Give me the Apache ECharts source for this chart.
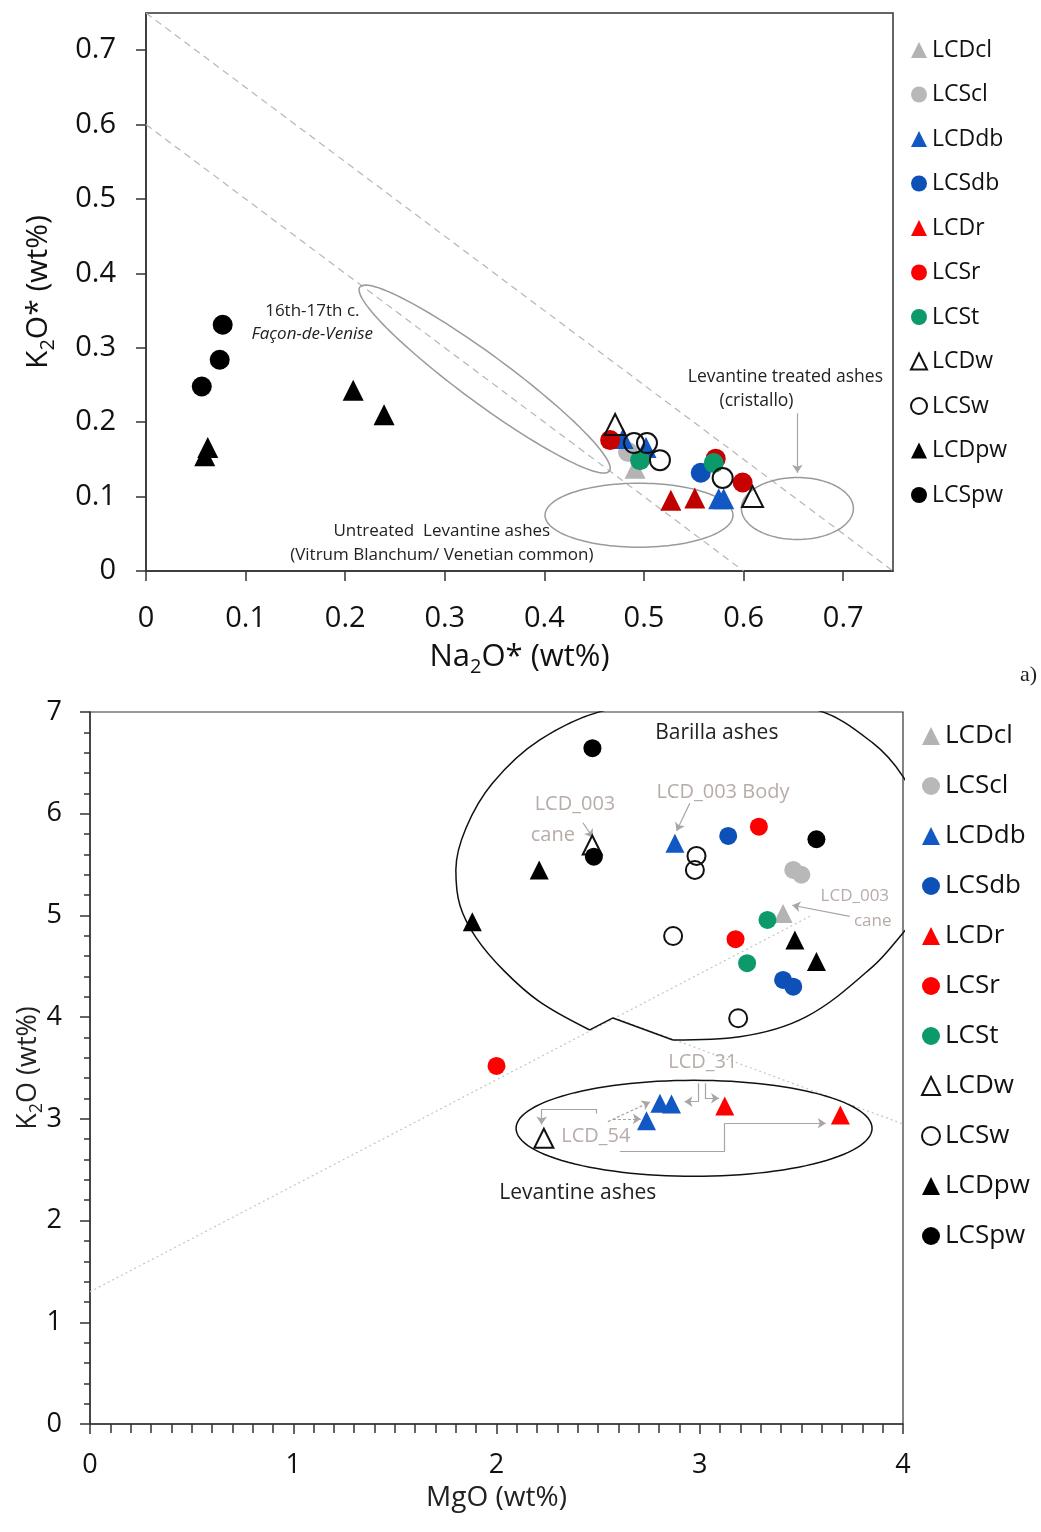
<!DOCTYPE html>
<html>
<head>
<meta charset="utf-8">
<script src="https://cdn.jsdelivr.net/npm/echarts@6/dist/echarts.min.js"></script>
<style>
  html, body { margin: 0; padding: 0; background: #fff; }
  #top { width: 1041px; height: 690px; }
  #bottom { width: 1041px; height: 842px; }
</style>
</head>
<body>
<div id="top"></div>
<div id="bottom"></div>
<script>
const FONT = "'Open Sans', 'Noto Sans', sans-serif";

const seriesNames = ["LCDcl", "LCScl", "LCDdb", "LCSdb", "LCDr", "LCSr", "LCSt", "LCDw", "LCSw", "LCDpw", "LCSpw"];

// ---- panel a) Na2O* vs K2O* ----
const topXTicks = [0, 0.1, 0.2, 0.3, 0.4, 0.5, 0.6, 0.7];
const topYTicks = [0, 0.1, 0.2, 0.3, 0.4, 0.5, 0.6, 0.7];

const topLCDcl = [[0.491, 0.138]];
const topLCScl = [[0.484, 0.160]];
const topLCDdb = [[0.479, 0.178], [0.502, 0.166], [0.575, 0.097], [0.580, 0.097]];
const topLCSdb = [[0.557, 0.132]];
const topLCDr = [[0.527, 0.095], [0.551, 0.098]];
const topLCSr = [[0.466, 0.176], [0.572, 0.151], [0.599, 0.119]];
const topLCSt = [[0.496, 0.149], [0.570, 0.145]];
const topLCDw = [[0.471, 0.197], [0.609, 0.100]];
const topLCSw = [[0.490, 0.172], [0.503, 0.172], [0.516, 0.149], [0.579, 0.125]];
const topLCDpw = [[0.062, 0.166], [0.059, 0.155], [0.208, 0.243], [0.239, 0.210]];
const topLCSpw = [[0.077, 0.331], [0.074, 0.284], [0.056, 0.248]];

// sum lines Na2O*+K2O* = 0.6 and 0.75
const topSumLow = [[0, 0.6], [0.6, 0]];
const topSumHigh = [[0, 0.75], [0.75, 0]];

// ---- panel b) MgO vs K2O ----
const botLCDcl = [[3.41, 5.02]];
const botLCScl = [[3.46, 5.447], [3.50, 5.40]];
const botLCDdb = [[2.878, 5.71], [2.804, 3.153], [2.861, 3.146], [2.738, 2.982]];
const botLCSdb = [[3.14, 5.782], [3.41, 4.366], [3.46, 4.30]];
const botLCDr = [[3.123, 3.127], [3.692, 3.038]];
const botLCSr = [[3.291, 5.873], [3.176, 4.766], [2.0, 3.52]];
const botLCSt = [[3.333, 4.956], [3.233, 4.53]];
const botLCDw = [[2.471, 5.693], [2.233, 2.809]];
const botLCSw = [[2.984, 5.585], [2.976, 5.447], [2.869, 4.798], [3.189, 3.989]];
const botLCDpw = [[2.21, 5.447], [1.881, 4.939], [3.468, 4.759], [3.574, 4.546]];
const botLCSpw = [[2.472, 6.644], [2.479, 5.578], [3.574, 5.749]];

const botTrendA = [[0, 1.3], [3.55, 5.0]];
const botTrendB = [[2.6, 3.98], [4.0, 2.95]];

// Barilla field outline (smooth part, then the notch)
const barillaArc = [
  [2.868, 3.776], [3.197, 3.808], [3.525, 4.005], [3.851, 4.497], [4.0, 4.828],
  [4.13, 5.15], [4.16, 5.5], [4.13, 5.84], [4.0, 6.365], [3.851, 6.696],
  [3.575, 7.02], [3.055, 7.12], [2.541, 7.02], [2.213, 6.726], [1.98, 6.3],
  [1.85, 5.86], [1.80, 5.45], [1.82, 5.1], [1.90, 4.78], [2.04, 4.45],
  [2.213, 4.15], [2.459, 3.874]
];
const barillaNotch = [[2.459, 3.874], [2.573, 3.992], [2.868, 3.776]];

const style = {
  LCDcl: { symbol: "triangle", color: "#b3b3b3" },
  LCScl: { symbol: "circle", color: "#b8b8b8" },
  LCDdb: { symbol: "triangle", color: "#1158c4" },
  LCSdb: { symbol: "circle", color: "#0d50b8" },
  LCDr: { symbol: "triangle", color: "#ff0000" },
  LCSr: { symbol: "circle", color: "#ff0000" },
  LCSt: { symbol: "circle", color: "#0d9a6a" },
  LCDw: { symbol: "triangle", color: "rgba(255,255,255,0)", border: "#111" },
  LCSw: { symbol: "circle", color: "rgba(255,255,255,0)", border: "#111" },
  LCDpw: { symbol: "triangle", color: "#000" },
  LCSpw: { symbol: "circle", color: "#000" },
};

function scatter(name, data, size, colorOverride) {
  const s = style[name];
  return {
    name,
    type: "scatter",
    data,
    symbol: s.symbol,
    symbolSize: s.symbol === "triangle" ? size + 1 : size,
    z: 5,
    itemStyle: {
      color: colorOverride || s.color,
      borderColor: s.border || "transparent",
      borderWidth: s.border ? 2 : 0,
      opacity: 1,
    },
  };
}

function guide(data, type, color) {
  return {
    type: "line", data, symbol: "none", silent: true, z: 1,
    lineStyle: { color, width: 1.2, type },
  };
}

function ellipse(spec) {
  return {
    type: "custom", silent: true, z: 2,
    data: [[spec.cx, spec.cy]],
    renderItem: function (params, api) {
      const c = api.coord([spec.cx, spec.cy]);
      const a = (spec.rot || 0) * Math.PI / 180;
      const pts = [];
      for (let i = 0; i <= 120; i++) {
        const t = i / 120 * 2 * Math.PI;
        pts.push([
          c[0] + spec.rx * Math.cos(t) * Math.cos(a) - spec.ry * Math.sin(t) * Math.sin(a),
          c[1] + spec.rx * Math.cos(t) * Math.sin(a) + spec.ry * Math.sin(t) * Math.cos(a),
        ]);
      }
      return { type: "polygon", shape: { points: pts }, style: { fill: "none", stroke: spec.color, lineWidth: spec.width } };
    },
  };
}

// connector paths: every segment drawn plain, the last one with an arrow head
function arrows(list, dashed) {
  const plain = [];
  const heads = [];
  list.forEach((path) => {
    for (let i = 0; i < path.length - 1; i++) {
      (i === path.length - 2 ? heads : plain).push({ coords: [path[i], path[i + 1]] });
    }
  });
  const lineStyle = { color: "#aaa4a4", width: 1.2, opacity: 1, type: dashed ? [3, 2] : "solid" };
  return [
    { type: "lines", coordinateSystem: "cartesian2d", silent: true, z: 3, symbol: "none", lineStyle, data: plain },
    { type: "lines", coordinateSystem: "cartesian2d", silent: true, z: 3, symbol: ["none", "arrow"], symbolSize: 8, lineStyle, data: heads },
  ];
}

function legendData(overrides) {
  return seriesNames.map((n) => overrides && overrides[n] ? { name: n, itemStyle: { color: overrides[n] } } : n);
}

function placeTexts(chart, texts, extra) {
  const els = texts.map((t) => {
    const p = chart.convertToPixel({ gridIndex: 0 }, t.at);
    return {
      type: "text", x: p[0], y: p[1], silent: true, z: 10,
      style: {
        text: t.text, fill: t.color || "#222", fontSize: t.size, fontStyle: t.italic ? "italic" : "normal",
        fontFamily: FONT, align: t.align || "center", verticalAlign: "middle",
      },
    };
  });
  chart.setOption({ graphic: els.concat(extra || []) });
}

// ---------- top chart ----------
const topChart = echarts.init(document.getElementById("top"));
topChart.setOption({
  animation: false,
  textStyle: { fontFamily: FONT },
  grid: { left: 146, top: 13, width: 747, height: 558, show: true, borderColor: "#333", borderWidth: 1.5 },
  legend: {
    data: legendData({ LCDr: "#ff0000", LCSr: "#ff0000" }),
    orient: "vertical", left: 905, top: 33, itemWidth: 16, itemHeight: 16, itemGap: 20.5,
    textStyle: { fontSize: 23, color: "#111", lineHeight: 24, fontFamily: FONT },
  },
  xAxis: {
    type: "value", min: 0, max: 0.75,
    name: "{a|Na}{s|2}{a|O* (wt%)}", nameLocation: "middle", nameGap: 66,
    nameTextStyle: {
      rich: {
        a: { fontSize: 31, color: "#111", lineHeight: 40, fontFamily: FONT },
        s: { fontSize: 20, color: "#111", lineHeight: 40, verticalAlign: "bottom", fontFamily: FONT },
      },
    },
    splitLine: { show: false },
    axisLine: { onZero: false, lineStyle: { color: "#333", width: 1.5 } },
    axisTick: { customValues: topXTicks, length: 10, lineStyle: { color: "#333", width: 1.5 } },
    axisLabel: { customValues: topXTicks, margin: 33, fontSize: 29, color: "#111", fontFamily: FONT },
  },
  yAxis: {
    type: "value", min: 0, max: 0.75,
    name: "{a|K}{s|2}{a|O* (wt%)}", nameLocation: "middle", nameGap: 88,
    nameTextStyle: {
      rich: {
        a: { fontSize: 30, color: "#111", lineHeight: 40, fontFamily: FONT },
        s: { fontSize: 20, color: "#111", lineHeight: 40, verticalAlign: "bottom", fontFamily: FONT },
      },
    },
    splitLine: { show: false },
    axisLine: { onZero: false, lineStyle: { color: "#333", width: 1.5 } },
    axisTick: { customValues: topYTicks, length: 10, lineStyle: { color: "#333", width: 1.5 } },
    axisLabel: { customValues: topYTicks, margin: 30, fontSize: 29, color: "#111", fontFamily: FONT },
  },
  series: [
    guide(topSumLow, [7, 5], "#bdb3b3"),
    guide(topSumHigh, [7, 5], "#bdb3b3"),
    ellipse({ cx: 0.340, cy: 0.258, rx: 155, ry: 24, rot: 36.4, color: "#9a9a9a", width: 1.5 }),
    ellipse({ cx: 0.495, cy: 0.075, rx: 94, ry: 32, color: "#9a9a9a", width: 1.5 }),
    ellipse({ cx: 0.654, cy: 0.084, rx: 56, ry: 31, color: "#9a9a9a", width: 1.5 }),
    ...arrows([[[0.654, 0.212], [0.654, 0.132]]]),
    scatter("LCDcl", topLCDcl, 20),
    scatter("LCScl", topLCScl, 20),
    scatter("LCDdb", topLCDdb, 20),
    scatter("LCSdb", topLCSdb, 20),
    scatter("LCDr", topLCDr, 20, "#c00000"),
    scatter("LCSr", topLCSr, 20, "#c80000"),
    scatter("LCSt", topLCSt, 20),
    scatter("LCDw", topLCDw, 20),
    scatter("LCSw", topLCSw, 20),
    scatter("LCDpw", topLCDpw, 20),
    scatter("LCSpw", topLCSpw, 20),
  ],
});
placeTexts(topChart, [
  { text: "16th-17th c.", at: [0.167, 0.349], size: 17 },
  { text: "Façon-de-Venise", at: [0.167, 0.318], size: 17, italic: true },
  { text: "Levantine treated ashes", at: [0.642, 0.261], size: 17.5 },
  { text: "(cristallo)", at: [0.613, 0.229], size: 17.5 },
  { text: "Untreated  Levantine ashes", at: [0.297, 0.054], size: 17 },
  { text: "(Vitrum Blanchum/ Venetian common)", at: [0.297, 0.021], size: 17 },
], [{ type: "text", left: 1020, top: 664, silent: true,
  style: { text: "a)", fontSize: 22, fontFamily: "'Liberation Serif', serif", fill: "#222" } }]);

// ---------- bottom chart ----------
const botChart = echarts.init(document.getElementById("bottom"));
botChart.setOption({
  animation: false,
  textStyle: { fontFamily: FONT },
  grid: { left: 90, top: 22, width: 813, height: 712, show: true, borderColor: "#333", borderWidth: 1.2 },
  legend: {
    data: legendData(),
    orient: "vertical", left: 916, top: 28, itemWidth: 18, itemHeight: 18, itemGap: 24,
    textStyle: { fontSize: 26, color: "#111", lineHeight: 26, fontFamily: FONT },
  },
  xAxis: {
    type: "value", min: 0, max: 4, interval: 1,
    name: "MgO (wt%)", nameLocation: "middle", nameGap: 60,
    nameTextStyle: { fontSize: 28, color: "#222", fontFamily: FONT },
    splitLine: { show: false },
    axisLine: { onZero: false, lineStyle: { color: "#333", width: 1.5 } },
    axisTick: { length: 10, lineStyle: { color: "#333", width: 1.5 } },
    minorTick: { show: true, splitNumber: 10, length: 9, lineStyle: { color: "#333", width: 1.5 } },
    axisLabel: { margin: 28, fontSize: 27, color: "#111", fontFamily: FONT },
  },
  yAxis: {
    type: "value", min: 0, max: 7, interval: 1,
    name: "{a|K}{s|2}{a|O (wt%)}", nameLocation: "middle", nameGap: 44, nameMoveOverlap: false,
    nameTextStyle: {
      rich: {
        a: { fontSize: 27, color: "#222", lineHeight: 36, fontFamily: FONT },
        s: { fontSize: 18, color: "#222", lineHeight: 36, verticalAlign: "bottom", fontFamily: FONT },
      },
    },
    splitLine: { show: false },
    axisLine: { onZero: false, lineStyle: { color: "#333", width: 1.5 } },
    axisTick: { length: 10, lineStyle: { color: "#333", width: 1.5 } },
    minorTick: { show: true, splitNumber: 5, length: 6, lineStyle: { color: "#333", width: 1.5 } },
    axisLabel: { margin: 28, fontSize: 27, color: "#111", fontFamily: FONT },
  },
  series: [
    guide(botTrendA, [2, 3], "#c4c4c4"),
    guide(botTrendB, [2, 3], "#c4c4c4"),
    { type: "line", data: barillaArc, smooth: 0.35, symbol: "none", silent: true, z: 2,
      lineStyle: { color: "#111", width: 1.5 } },
    { type: "line", data: barillaNotch, symbol: "none", silent: true, z: 2,
      lineStyle: { color: "#111", width: 1.5 } },
    ellipse({ cx: 2.972, cy: 2.907, rx: 178, ry: 48, color: "#111", width: 1.5 }),
    ...arrows([
      [[2.425, 5.911], [2.474, 5.765]],
      [[2.951, 6.103], [2.886, 5.83]],
      [[3.738, 4.99], [3.455, 5.1]],
      [[2.993, 3.35], [2.993, 3.169], [2.925, 3.169]],
      [[3.025, 3.35], [3.025, 3.203], [3.095, 3.203]],
      [[2.492, 3.053], [2.492, 3.097], [2.222, 3.097], [2.222, 2.945]],
      [[2.607, 2.678], [3.123, 2.678], [3.123, 2.957], [3.62, 2.957]],
    ]),
    ...arrows([
      [[2.548, 2.973], [2.755, 3.165]],
      [[2.573, 3.0], [2.71, 2.999]],
    ], true),
    scatter("LCDcl", botLCDcl, 18),
    scatter("LCScl", botLCScl, 18),
    scatter("LCDdb", botLCDdb, 18),
    scatter("LCSdb", botLCSdb, 18),
    scatter("LCDr", botLCDr, 18),
    scatter("LCSr", botLCSr, 18),
    scatter("LCSt", botLCSt, 18),
    scatter("LCDw", botLCDw, 18),
    scatter("LCSw", botLCSw, 18),
    scatter("LCDpw", botLCDpw, 18),
    scatter("LCSpw", botLCSpw, 18),
  ],
});
const GREY = "#b8aca8";
placeTexts(botChart, [
  { text: "Barilla ashes", at: [3.084, 6.794], size: 21 },
  { text: "LCD_003", at: [2.386, 6.096], size: 20, color: GREY },
  { text: "cane", at: [2.277, 5.792], size: 20, color: GREY },
  { text: "LCD_003 Body", at: [3.114, 6.214], size: 20, color: GREY },
  { text: "LCD_003", at: [3.763, 5.192], size: 17, color: GREY },
  { text: "cane", at: [3.851, 4.946], size: 17, color: GREY },
  { text: "LCD_31", at: [3.015, 3.56], size: 20, color: GREY },
  { text: "LCD_54", at: [2.489, 2.832], size: 20, color: GREY },
  { text: "Levantine ashes", at: [2.4, 2.271], size: 21 },
]);
</script>
</body>
</html>
